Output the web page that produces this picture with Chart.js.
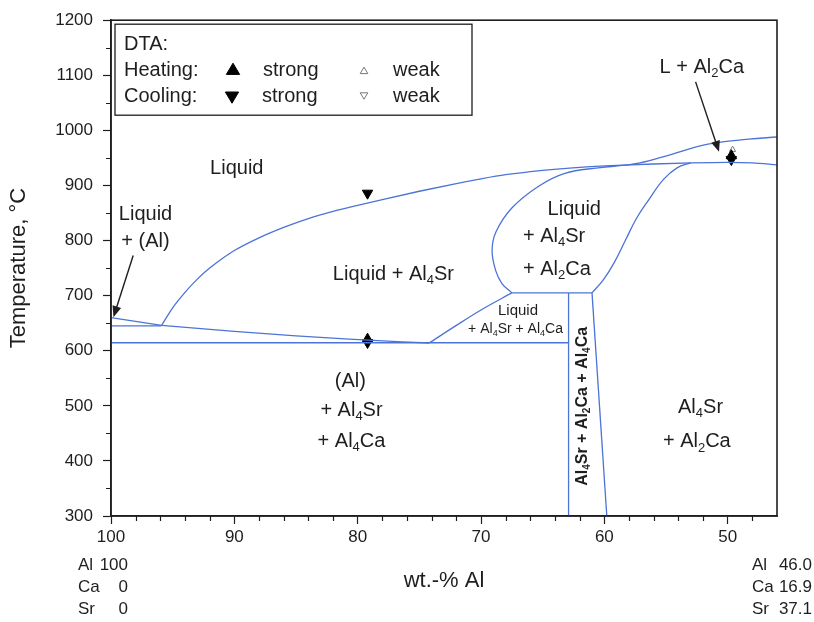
<!DOCTYPE html>
<html>
<head>
<meta charset="utf-8">
<script src="https://cdn.jsdelivr.net/npm/chart.js@4.4.1/dist/chart.umd.min.js"></script>
<style>
  html, body { margin: 0; padding: 0; background: #fff; }
</style>
</head>
<body>
<canvas id="phaseChart" width="814" height="622"></canvas>
<script>
// boundary curves, [wt.-% Al, temperature °C]
const alLiquidus = [[100, 660], [95.9, 646]];
const upperEutectic = [[100, 645], [95.9, 645]];
const al4srLiquidus = [[95.9, 646], [95, 678], [94, 706], [93, 730], [92, 750], [91, 767], [90, 782], [88, 805],
  [86, 824], [84, 840], [82, 853], [80, 864], [78, 874.5], [75, 889.5], [72, 903.5], [70, 912], [68, 919.5],
  [65, 927.5], [62, 933], [59, 936.5], [56, 939], [53, 941], [50, 942], [48, 941], [46, 937.5]];
const eutecticSlope = [[95.9, 646], [90, 635], [85, 627], [80.7, 621], [74.2, 614]];
const lowerEutectic = [[100, 614.5], [62.9, 614.5]];
const triangleLeft = [[74.2, 614], [72, 646], [70, 674], [67.5, 705]];
const loopBottom = [[67.5, 705], [61, 705]];
const al2caLiquidus = [[67.5, 705], [68.3, 722], [68.8, 745], [69.1, 781], [68.8, 815], [67.5, 859], [65.3, 899],
  [63.2, 922], [60.5, 932], [57.6, 939], [55.1, 953], [51.6, 975], [48.3, 984], [46, 988]];
const loopRight = [[61, 705], [60.1, 728], [59.2, 760], [58.3, 800], [57.4, 840], [56.4, 874], [55.2, 911],
  [54.1, 932], [53, 941]];
const phaseLeft = [[62.9, 705], [62.9, 300]];
const phaseRight = [[61, 705], [59.8, 300]];

// DTA signals
const heatingStrong = [[79.2, 621], [49.7, 954]];
const coolingStrong = [[79.2, 615], [79.2, 886], [49.7, 947]];
const heatingWeak = [[49.6, 965]];

// axis ticks
const xTicks = [100, 90, 80, 70, 60, 50];
const yTicks = [300, 400, 500, 600, 700, 800, 900, 1000, 1100, 1200];

const blue = '#4b74d6';
const ink = '#1e1e1e';
const fontFamily = '"Liberation Sans", Arial, sans-serif';

const regionLabels = [
  { t: 'Liquid', x: 89.8, y: 930 },
  { t: 'Liquid', x: 97.2, y: 847 },
  { t: '+ (Al)', x: 97.2, y: 799 },
  { t: 'Liquid + Al_4Sr', x: 77.1, y: 739 },
  { t: 'Liquid', x: 64.6, y: 856, align: 'left' },
  { t: '+ Al_4Sr', x: 66.6, y: 808, align: 'left' },
  { t: '+ Al_2Ca', x: 66.6, y: 748, align: 'left' },
  { t: 'Liquid', x: 67.0, y: 673, size: 15 },
  { t: '+ Al_4Sr + Al_4Ca', x: 67.2, y: 639, size: 14 },
  { t: '(Al)', x: 80.6, y: 544 },
  { t: '+ Al_4Sr', x: 80.5, y: 492 },
  { t: '+ Al_4Ca', x: 80.5, y: 436 },
  { t: 'Al_4Sr', x: 52.2, y: 497 },
  { t: '+ Al_2Ca', x: 52.5, y: 435 },
  { t: 'L + Al_2Ca', x: 52.1, y: 1115 },
  { t: 'Al_4Sr + Al_2Ca + Al_4Ca', x: 61.8, y: 499, size: 16, bold: true, rotate: true }
];
const arrows = [
  [[98.2, 773], [99.8, 661]],
  [[52.6, 1088], [50.7, 961]]
];

function toPoints(arr) {
  return arr.map(p => ({ x: p[0], y: p[1] }));
}

function curve(label, arr, smooth) {
  const ds = {
    label,
    data: toPoints(arr),
    showLine: true,
    borderColor: blue,
    borderWidth: 1.3,
    pointRadius: 0,
    fill: false
  };
  if (smooth === 'monotone') ds.cubicInterpolationMode = 'monotone';
  else ds.tension = smooth || 0;
  return ds;
}

function markers(label, arr, down, weak) {
  return {
    label,
    data: toPoints(arr),
    showLine: false,
    pointStyle: 'triangle',
    rotation: down ? 180 : 0,
    pointRadius: weak ? 3.5 : 6,
    backgroundColor: weak ? '#fff' : '#000',
    borderColor: weak ? '#777' : '#000',
    borderWidth: 1
  };
}

// text with subscripts written as _4
function richText(ctx, str, x, y, size, align, bold) {
  const parts = str.split(/_(\d)/);
  const w = bold ? 'bold ' : '';
  const subSize = Math.round(size * 0.65);
  let total = 0;
  parts.forEach((p, i) => {
    ctx.font = w + (i % 2 ? subSize : size) + 'px ' + fontFamily;
    total += ctx.measureText(p).width;
  });
  let cx = align === 'left' ? x : x - total / 2;
  ctx.textAlign = 'left';
  ctx.textBaseline = 'middle';
  parts.forEach((p, i) => {
    ctx.font = w + (i % 2 ? subSize : size) + 'px ' + fontFamily;
    ctx.fillText(p, cx, i % 2 ? y + size * 0.32 : y);
    cx += ctx.measureText(p).width;
  });
}

function triangle(ctx, x, y, r, down, fill, stroke) {
  const d = down ? -1 : 1;
  ctx.beginPath();
  ctx.moveTo(x, y - d * r);
  ctx.lineTo(x + r * 0.95, y + d * r * 0.6);
  ctx.lineTo(x - r * 0.95, y + d * r * 0.6);
  ctx.closePath();
  ctx.fillStyle = fill;
  ctx.fill();
  ctx.strokeStyle = stroke;
  ctx.lineWidth = 1;
  ctx.stroke();
}

const decorations = {
  id: 'decorations',
  afterDraw(chart) {
    const ctx = chart.ctx;
    const xs = chart.scales.x, ys = chart.scales.y;
    const area = chart.chartArea;
    ctx.save();

    // minor ticks
    ctx.strokeStyle = ink;
    ctx.lineWidth = 1.2;
    ctx.beginPath();
    for (let v = 98; v > 46; v -= 2) {
      if (v % 10 === 0) continue;
      const px = Math.round(xs.getPixelForValue(v)) + 0.5;
      ctx.moveTo(px, area.bottom);
      ctx.lineTo(px, area.bottom + 5);
    }
    for (let t = 350; t < 1200; t += 100) {
      const py = Math.round(ys.getPixelForValue(t)) + 0.5;
      ctx.moveTo(area.left, py);
      ctx.lineTo(area.left - 5, py);
    }
    ctx.stroke();

    // frame
    ctx.lineWidth = 1.6;
    ctx.strokeRect(area.left, area.top, area.right - area.left, area.bottom - area.top);

    // arrows
    ctx.fillStyle = ink;
    ctx.strokeStyle = ink;
    arrows.forEach(a => {
      const x1 = xs.getPixelForValue(a[0][0]), y1 = ys.getPixelForValue(a[0][1]);
      const x2 = xs.getPixelForValue(a[1][0]), y2 = ys.getPixelForValue(a[1][1]);
      const ang = Math.atan2(y2 - y1, x2 - x1);
      ctx.lineWidth = 1.4;
      ctx.beginPath();
      ctx.moveTo(x1, y1);
      ctx.lineTo(x2 - Math.cos(ang) * 8, y2 - Math.sin(ang) * 8);
      ctx.stroke();
      ctx.beginPath();
      ctx.moveTo(x2, y2);
      ctx.lineTo(x2 - Math.cos(ang) * 11 + Math.sin(ang) * 4.5, y2 - Math.sin(ang) * 11 - Math.cos(ang) * 4.5);
      ctx.lineTo(x2 - Math.cos(ang) * 11 - Math.sin(ang) * 4.5, y2 - Math.sin(ang) * 11 + Math.cos(ang) * 4.5);
      ctx.closePath();
      ctx.fill();
    });

    // region labels
    ctx.fillStyle = ink;
    regionLabels.forEach(l => {
      const px = xs.getPixelForValue(l.x), py = ys.getPixelForValue(l.y);
      if (l.rotate) {
        ctx.save();
        ctx.translate(px, py);
        ctx.rotate(-Math.PI / 2);
        richText(ctx, l.t, 0, 0, l.size || 20, 'center', l.bold);
        ctx.restore();
      } else {
        richText(ctx, l.t, px, py, l.size || 20, l.align || 'center', l.bold);
      }
    });

    // DTA legend box
    const bx = area.left + 4, by = area.top + 4;
    ctx.fillStyle = '#fff';
    ctx.fillRect(bx, by, 357, 91);
    ctx.lineWidth = 1.3;
    ctx.strokeStyle = ink;
    ctx.strokeRect(bx, by, 357, 91);
    ctx.fillStyle = ink;
    ctx.font = '20px ' + fontFamily;
    ctx.textAlign = 'left';
    ctx.textBaseline = 'middle';
    ctx.fillText('DTA:', bx + 9, by + 20);
    ctx.fillText('Heating:', bx + 9, by + 46);
    ctx.fillText('Cooling:', bx + 9, by + 72);
    ctx.fillText('strong', bx + 148, by + 46);
    ctx.fillText('strong', bx + 147, by + 72);
    ctx.fillText('weak', bx + 278, by + 46);
    ctx.fillText('weak', bx + 278, by + 72);
    triangle(ctx, bx + 118, by + 46, 7, false, '#000', '#000');
    triangle(ctx, bx + 117, by + 72, 7, true, '#000', '#000');
    triangle(ctx, bx + 249, by + 47, 4, false, '#fff', '#777');
    triangle(ctx, bx + 249, by + 71, 4, true, '#fff', '#777');

    // composition of the axis end points
    ctx.font = '17px ' + fontFamily;
    ctx.fillStyle = ink;
    const rows = [['Al', '100', '46.0'], ['Ca', '0', '16.9'], ['Sr', '0', '37.1']];
    rows.forEach((r, i) => {
      const py = area.bottom + 49 + i * 22;
      ctx.textAlign = 'left';
      ctx.fillText(r[0], area.left - 33, py);
      ctx.fillText(r[0], area.right - 25, py);
      ctx.textAlign = 'right';
      ctx.fillText(r[1], area.left + 17, py);
      ctx.fillText(r[2], area.right + 35, py);
    });
    ctx.restore();
  }
};

Chart.defaults.font.family = fontFamily;
Chart.defaults.color = ink;

new Chart(document.getElementById('phaseChart'), {
  type: 'scatter',
  data: {
    datasets: [
      curve('Al liquidus', alLiquidus),
      curve('upper eutectic', upperEutectic),
      curve('Al4Sr liquidus', al4srLiquidus, 'monotone'),
      curve('eutectic slope', eutecticSlope, 'monotone'),
      curve('lower eutectic', lowerEutectic),
      curve('triangle left', triangleLeft, 'monotone'),
      curve('loop bottom', loopBottom),
      curve('Al2Ca liquidus', al2caLiquidus, 0.4),
      curve('loop right', loopRight, 0.4),
      curve('phase left', phaseLeft),
      curve('phase right', phaseRight),
      markers('Heating strong', heatingStrong, false, false),
      markers('Cooling strong', coolingStrong, true, false),
      markers('Heating weak', heatingWeak, false, true)
    ]
  },
  options: {
    responsive: false,
    devicePixelRatio: 1,
    animation: false,
    events: [],
    layout: { padding: { left: 0, right: 37, top: 18, bottom: 0 } },
    plugins: { legend: { display: false }, tooltip: { enabled: false } },
    scales: {
      x: {
        type: 'linear',
        reverse: true,
        min: 46,
        max: 100,
        afterBuildTicks: s => { s.ticks = xTicks.map(v => ({ value: v })); },
        afterFit: s => { s.height = 106; },
        grid: { drawOnChartArea: false, drawTicks: true, tickLength: 8, tickColor: ink, tickWidth: 1.2 },
        border: { display: true, color: ink, width: 1.6 },
        ticks: { font: { size: 17 }, padding: 3, maxRotation: 0, callback: v => String(v) },
        title: { display: true, text: 'wt.-% Al', font: { size: 22 }, padding: { top: 4, bottom: 28 } }
      },
      y: {
        type: 'linear',
        min: 300,
        max: 1200,
        afterBuildTicks: s => { s.ticks = yTicks.map(v => ({ value: v })); },
        afterFit: s => { s.width = 111; },
        grid: { drawOnChartArea: false, drawTicks: true, tickLength: 8, tickColor: ink, tickWidth: 1.2 },
        border: { display: true, color: ink, width: 1.6 },
        ticks: { font: { size: 17 }, padding: 10, callback: v => String(v) },
        title: { display: true, text: 'Temperature, °C', font: { size: 22 }, padding: { top: 6, bottom: 4 } }
      }
    }
  },
  plugins: [decorations]
});
</script>
</body>
</html>
